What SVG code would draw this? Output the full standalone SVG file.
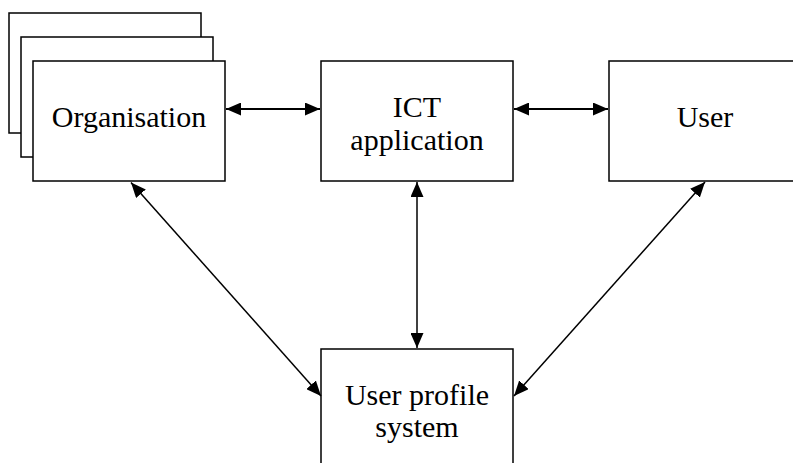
<svg xmlns="http://www.w3.org/2000/svg" width="793" height="463" viewBox="0 0 793 463">
<defs>
<style>
.box{fill:#fff;stroke:#000;stroke-width:1.5}
.lbl{font-family:"Liberation Serif","Times New Roman",serif;font-size:30px;fill:#000;text-anchor:middle}
.con{stroke:#000;stroke-width:1.5;fill:none;marker-start:url(#ah);marker-end:url(#ah)}
.h{stroke-width:2}
</style>
<marker id="ah" viewBox="0 0 15 13" refX="15" refY="6.5" markerWidth="15" markerHeight="13" markerUnits="userSpaceOnUse" orient="auto-start-reverse">
<path d="M0,0 L15,6.5 L0,13 z" fill="#000"/>
</marker>
</defs>
<rect width="793" height="463" fill="#fff"/>
<g id="organisation">
<rect class="box" x="9" y="13" width="192" height="120"/>
<rect class="box" x="21" y="37" width="192" height="120"/>
<rect class="box" x="33" y="61" width="192" height="120"/>
<text class="lbl" x="129" y="126.5">Organisation</text>
</g>
<g id="ict">
<rect class="box" x="321" y="61" width="192" height="120"/>
<text class="lbl" x="417" y="116.5">ICT</text>
<text class="lbl" x="417" y="149.5">application</text>
</g>
<g id="user">
<rect class="box" x="609" y="61" width="192" height="120"/>
<text class="lbl" x="705" y="126.5">User</text>
</g>
<g id="ups">
<rect class="box" x="321" y="349" width="192" height="120"/>
<text class="lbl" x="417" y="404.5">User profile</text>
<text class="lbl" x="417" y="436.5">system</text>
</g>
<g id="connectors">
<line class="con h" x1="226" y1="109" x2="320" y2="109"/>
<line class="con h" x1="514" y1="109" x2="608" y2="109"/>
<line class="con" x1="417" y1="182" x2="417" y2="348"/>
<line class="con" x1="131" y1="182.5" x2="321" y2="396"/>
<line class="con" x1="705" y1="182" x2="514" y2="396"/>
</g>
</svg>
